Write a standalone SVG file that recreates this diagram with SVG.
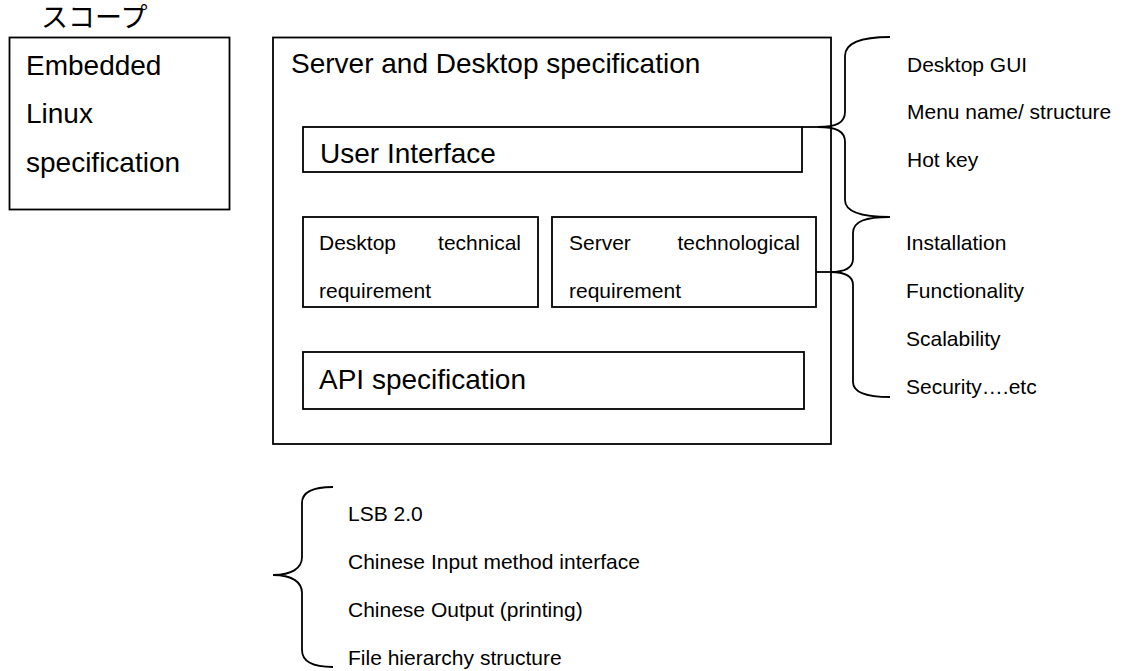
<svg xmlns="http://www.w3.org/2000/svg" width="1122" height="671" viewBox="0 0 1122 671">
<style>
.box{fill:#fff;stroke:#000;stroke-width:1.8}
.ln{fill:none;stroke:#000;stroke-width:1.8}
.t28{font-family:"Liberation Sans",Arial,sans-serif;font-size:28px;fill:#000}
.t21{font-family:"Liberation Sans",Arial,sans-serif;font-size:21px;fill:#000}
.jp{font-family:"Liberation Sans","Noto Sans CJK JP",sans-serif;font-size:27px;fill:#000}
</style>
<rect width="1122" height="671" fill="#fff"/>
<text class="jp" x="41" y="27">スコープ</text>
<g id="embedded">
<rect class="box" x="9.5" y="37.5" width="220" height="172"/>
<text class="t28" x="26" y="75">Embedded</text>
<text class="t28" x="26" y="123">Linux</text>
<text class="t28" x="26" y="172">specification</text>
</g>
<g id="server-desktop">
<rect class="box" x="273" y="37.5" width="558" height="406.5"/>
<text class="t28" x="291" y="73">Server and Desktop specification</text>
</g>
<g id="user-interface">
<rect class="box" x="303" y="127" width="499" height="45"/>
<text class="t28" x="320" y="163">User Interface</text>
</g>
<g id="desktop-tech">
<rect class="box" x="303" y="217" width="235" height="90"/>
<text class="t21" x="319" y="250">Desktop</text>
<text class="t21" x="521" y="250" text-anchor="end">technical</text>
<text class="t21" x="319" y="298">requirement</text>
</g>
<g id="server-tech">
<rect class="box" x="552" y="217" width="264" height="90"/>
<text class="t21" x="569" y="250">Server</text>
<text class="t21" x="800" y="250" text-anchor="end">technological</text>
<text class="t21" x="569" y="298">requirement</text>
</g>
<g id="api">
<rect class="box" x="303" y="352" width="501" height="57"/>
<text class="t28" x="319" y="389">API specification</text>
</g>
<g id="connectors">
<path class="ln" d="M802,127 L818,127"/>
<path class="ln" d="M890,37 C862,37 845,42 845,56 L845,112 C845,123 836,127 818,127 C836,127 845,131 845,142 L845,200 C845,212 862,217 890,217"/>
<path class="ln" d="M816,272 L830,272"/>
<path class="ln" d="M890,217 C866,217 853,221 853,233 L853,259 C853,267 846,272 830,272 C846,272 853,277 853,285 L853,382 C853,392 866,397 890,397"/>
<path class="ln" d="M333,487 C312,487 302,492 302,503 L302,557 C302,568 292,575 273,575 C292,575 302,582 302,593 L302,650 C302,661 312,667 333,667"/>
</g>
<g id="ui-notes">
<text class="t21" x="907" y="72">Desktop GUI</text>
<text class="t21" x="907" y="119">Menu name/ structure</text>
<text class="t21" x="907" y="167">Hot key</text>
</g>
<g id="tech-notes">
<text class="t21" x="906" y="250">Installation</text>
<text class="t21" x="906" y="298">Functionality</text>
<text class="t21" x="906" y="346">Scalability</text>
<text class="t21" x="906" y="394">Security….etc</text>
</g>
<g id="api-notes">
<text class="t21" x="348" y="521">LSB 2.0</text>
<text class="t21" x="348" y="569">Chinese Input method interface</text>
<text class="t21" x="348" y="617">Chinese Output (printing)</text>
<text class="t21" x="348" y="665">File hierarchy structure</text>
</g>
</svg>
